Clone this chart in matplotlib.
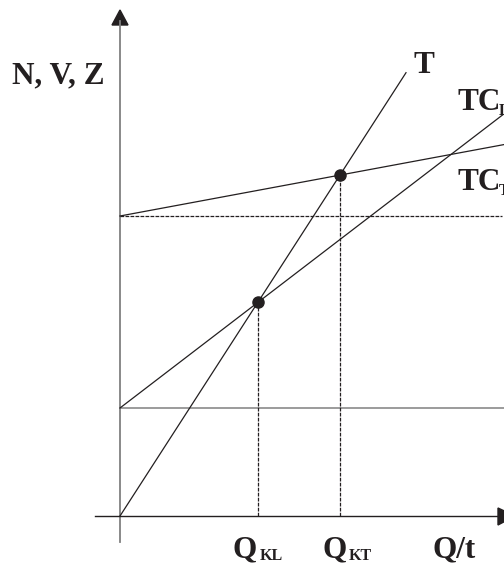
import numpy as np
import matplotlib
matplotlib.use('Agg')
import matplotlib.pyplot as plt
from matplotlib.patches import Polygon

# line data (1 unit = 10 px)
line_names = ['T', 'TC_L', 'TC_T']
intercepts = [0.0, 10.8, 30.0]
slopes = [1.55, 0.766, 0.186]
q_ends = [28.6, 38.3, 38.4]
fixed_costs = [10.8, 30.0]
fixed_ends = [38.4, 38.2]

ink = '#231f20'
grey = '#808080'

fig = plt.figure(figsize=(5.04, 5.63), dpi=100)
ax = fig.add_axes([0, 0, 1, 1])
ax.set_xlim(-12.0, 38.4)
ax.set_ylim(-4.7, 51.6)
ax.axis('off')

# axes with arrows
ax.plot([0, 0], [-2.6, 49.5], color=grey, lw=1.3)
ax.plot([-2.5, 38.0], [0, 0], color=ink, lw=1.0)
ax.add_patch(Polygon([[-0.8, 49.1], [0.8, 49.1], [0, 50.6]], closed=True, color=ink))
ax.add_patch(Polygon([[37.8, 0.8], [37.8, -0.9], [39.5, 0]], closed=True, color=ink))

# fixed cost levels
ax.plot([0, fixed_ends[0]], [fixed_costs[0]] * 2, color=grey, lw=1.1)
ax.plot([0, fixed_ends[1]], [fixed_costs[1]] * 2, color=ink, lw=0.9, ls=(0, (3, 1)))

# revenue and cost lines
for b, k, qe in zip(intercepts, slopes, q_ends):
    q = np.array([0, qe])
    ax.plot(q, b + k * q, color=ink, lw=0.9)

# break-even points
q_kl = (intercepts[1] - intercepts[0]) / (slopes[0] - slopes[1])
q_kt = (intercepts[2] - intercepts[0]) / (slopes[0] - slopes[2])
for qk in [q_kl, q_kt]:
    yk = intercepts[0] + slopes[0] * qk
    ax.plot([qk, qk], [0, yk], color=ink, lw=0.9, ls=(0, (3, 1)))
    ax.plot(qk, yk, 'o', color=ink, ms=8)

font = dict(family='Liberation Serif', weight='bold', color=ink, va='baseline')
ax.text(-10.8, 43.3, 'N, V, Z', fontsize=22.5, **font)
ax.text(29.3, 44.3, 'T', fontsize=22.5, **font)
ax.text(33.7, 40.6, 'TC', fontsize=22.5, **font)
ax.text(37.9, 40.1, 'L', fontsize=11.5, **font)
ax.text(33.7, 32.6, 'TC', fontsize=22.5, **font)
ax.text(37.9, 32.1, 'T', fontsize=11.5, **font)
ax.text(11.3, -4.1, 'Q', fontsize=22.5, **font)
ax.text(14.0, -4.4, 'KL', fontsize=11.5, **font)
ax.text(20.2, -4.1, 'Q', fontsize=22.5, **font)
ax.text(22.9, -4.4, 'KT', fontsize=11.5, **font)
ax.text(31.3, -4.1, 'Q/t', fontsize=22.5, **font)

fig.savefig('out.png', dpi=100)
